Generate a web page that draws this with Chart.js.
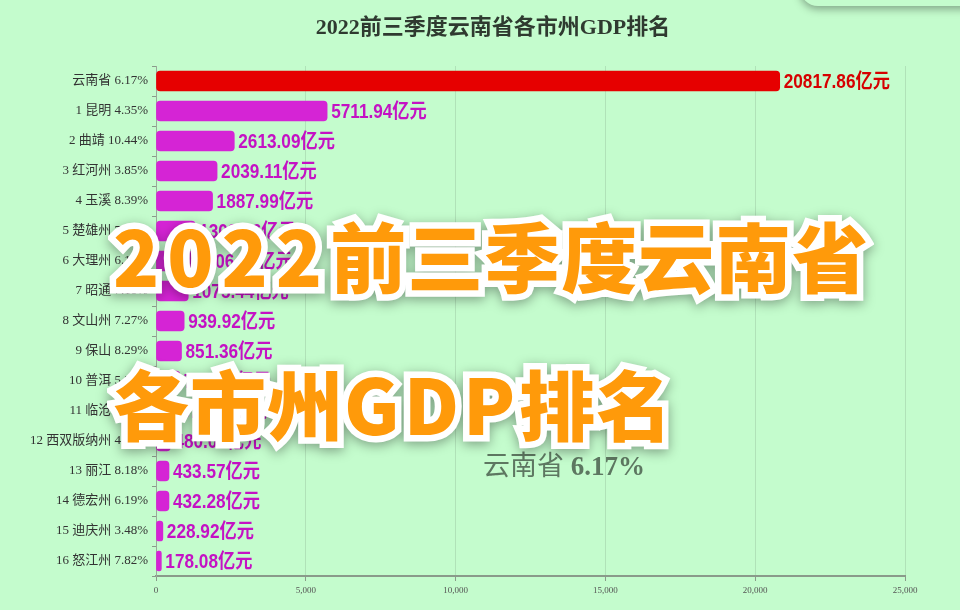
<!DOCTYPE html>
<html>
<head>
<meta charset="utf-8">
<script src="https://cdn.jsdelivr.net/npm/chart.js@4.4.1/dist/chart.umd.min.js"></script>
<style>
  html,body{margin:0;padding:0;background:#c4fccd;}
  #wrap{position:relative;width:960px;height:610px;overflow:hidden;background:#c4fccd;}
  #chart{position:absolute;left:0;top:0;}
  #title{position:absolute;left:13px;width:960px;top:8px;text-align:center;font:bold 22px "Liberation Serif","Noto Sans CJK SC",serif;color:#2f3a30;}
  #wm{position:absolute;left:483px;top:444px;font:27px "Liberation Serif","Noto Sans CJK SC",serif;color:rgba(75,95,78,0.85);}
  #wm b{font-weight:bold;}
  .big{position:absolute;left:113px;font-family:"Noto Sans CJK SC",sans-serif;font-weight:900;font-size:76px;line-height:1;color:#ff9a0a;-webkit-text-stroke:13px #ffffff;paint-order:stroke fill;filter:drop-shadow(0 3px 6px rgba(0,0,0,0.35));white-space:nowrap;}
  .big .d{letter-spacing:8px;}
  .big .g{letter-spacing:4px;}
  #l1{top:216px;letter-spacing:1px;}
  #l2{top:364px;letter-spacing:1px;}
  #corner{position:absolute;left:800px;top:-30px;width:200px;height:36px;border-radius:18px;background:#c4fccd;box-shadow:0 3px 8px rgba(0,0,0,0.35);}
</style>
</head>
<body>
<div id="wrap">
  <canvas id="chart" width="960" height="610"></canvas>
  <div id="title">2022前三季度云南省各市州GDP排名</div>
  <div id="wm">云南省 <b>6.17%</b></div>
  <div id="corner"></div>
  <div class="big" id="l1"><span class="d">2022</span>前三季度云南省</div>
  <div class="big" id="l2">各市州<span class="g">GDP</span>排名</div>
</div>
<script>
const names = ['云南省','昆明','曲靖','红河州','玉溪','楚雄州','大理州','昭通','文山州','保山','普洱','临沧','西双版纳州','丽江','德宏州','迪庆州','怒江州'];
const growth = ['6.17%','4.35%','10.44%','3.85%','8.39%','7.04%','6.18%','7.10%','7.27%','8.29%','5.38%','5.62%','4.56%','8.18%','6.19%','3.48%','7.82%'];
const gdp = [20817.86,5711.94,2613.09,2039.11,1887.99,1308.26,1206.70,1075.44,939.92,851.36,795.10,672.55,480.07,433.57,432.28,228.92,178.08];
const xTicks = [0,5000,10000,15000,20000,25000];
const unit = '亿元';

const labels = names.map((n,i)=> i===0 ? `${n} ${growth[i]}` : `${i} ${n} ${growth[i]}`);
const barColors = gdp.map((v,i)=> i===0 ? '#e60000' : '#d524d5');
const textColors = gdp.map((v,i)=> i===0 ? '#d60000' : '#c412c4');

const valueLabels = {
  id:'valueLabels',
  afterDatasetsDraw(chart){
    const ctx = chart.ctx;
    const meta = chart.getDatasetMeta(0);
    const sx = 0.86;
    ctx.save();
    ctx.font = 'bold 20px "Liberation Sans","Noto Sans CJK SC",sans-serif';
    ctx.textBaseline = 'middle';
    ctx.textAlign = 'left';
    meta.data.forEach((bar,i)=>{
      ctx.save();
      ctx.translate(bar.x+4, bar.y+1);
      ctx.scale(sx,1);
      ctx.fillStyle = textColors[i];
      ctx.fillText(gdp[i].toFixed(2)+unit, 0, 0);
      ctx.restore();
    });
    ctx.restore();
  }
};

new Chart(document.getElementById('chart'), {
  type:'bar',
  data:{
    labels: labels,
    datasets:[{
      data: gdp,
      backgroundColor: barColors,
      borderRadius: 4,
      borderSkipped: false,
      barThickness: 20
    }]
  },
  options:{
    indexAxis:'y',
    responsive:false,
    animation:false,
    devicePixelRatio:1,
    layout:{padding:{top:66,right:55,left:0,bottom:0}},
    plugins:{legend:{display:false},tooltip:{enabled:false},title:{display:false}},
    scales:{
      x:{
        min:0,max:25000,
        afterBuildTicks(s){ s.ticks = xTicks.map(v=>({value:v})); },
        ticks:{font:{family:'"Liberation Serif",serif',size:9},color:'#555',padding:4,maxRotation:0},
        grid:{color:'rgba(90,110,90,0.18)',tickLength:5,tickColor:'#8a9a8a'},
        border:{color:'#8a9a8a',width:2},
        afterFit(s){ s.height = 34; }
      },
      y:{
        ticks:{font:{family:'"Liberation Serif","Noto Sans CJK SC",serif',size:13},color:'#333',padding:4,autoSkip:false},
        grid:{drawOnChartArea:false,offset:true,tickLength:4,color:'#8a9a8a'},
        border:{color:'#9aaa9a',width:1},
        afterFit(s){ s.width = 156; }
      }
    }
  },
  plugins:[valueLabels]
});
</script>
</body>
</html>
